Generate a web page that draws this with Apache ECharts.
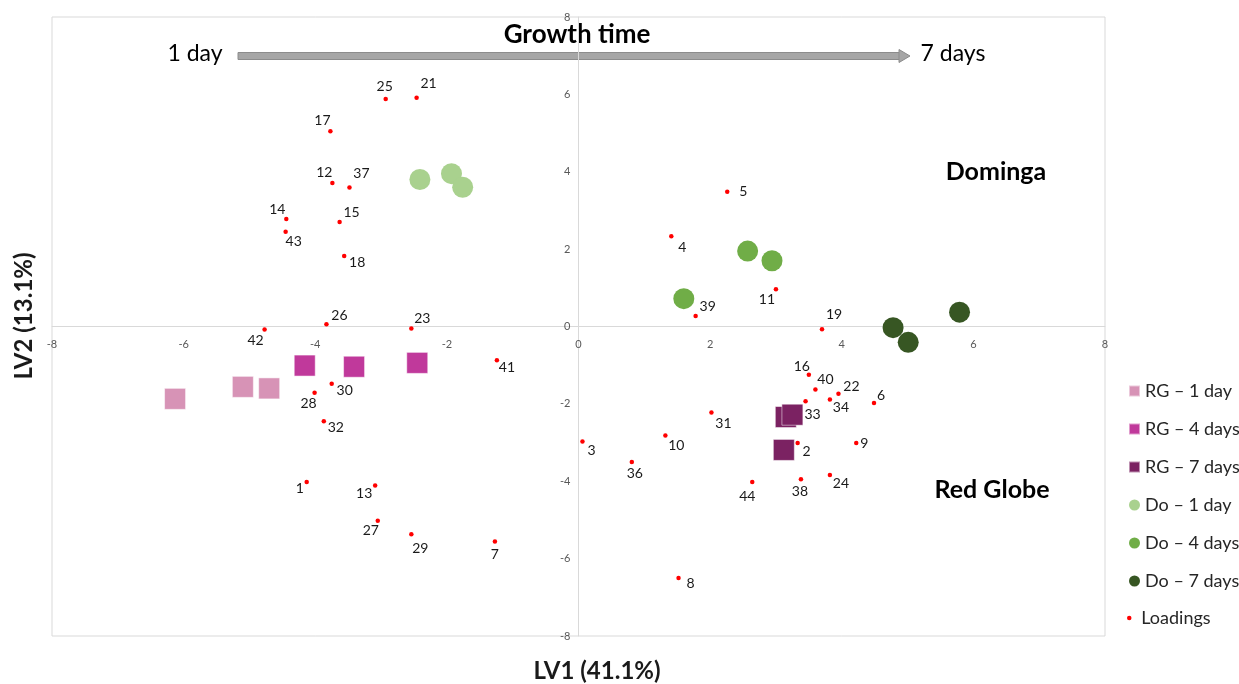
<!DOCTYPE html>
<html>
<head>
<meta charset="utf-8">
<script src="https://cdn.jsdelivr.net/npm/echarts@6/dist/echarts.min.js"></script>
<style>
html,body{margin:0;padding:0;background:#fff;}
#chart{width:1239px;height:684px;}
</style>
</head>
<body>
<div id="chart"></div>
<script>
// ---- data ----
const seriesNames = ['RG \u2013 1 day','RG \u2013 4 days','RG \u2013 7 days','Do \u2013 1 day','Do \u2013 4 days','Do \u2013 7 days'];
const rg1 = [[-6.13,-1.87],[-5.10,-1.56],[-4.70,-1.60]];
const rg4 = [[-4.16,-1.01],[-3.41,-1.04],[-2.45,-0.94]];
const rg7 = [[3.15,-2.34],[3.25,-2.28],[3.12,-3.19]];
const do1 = [[-2.41,3.80],[-1.93,3.95],[-1.76,3.60]];
const do4 = [[2.57,1.95],[2.94,1.70],[1.60,0.72]];
const do7 = [[5.79,0.37],[4.78,-0.03],[5.01,-0.41]];

const loadingIds = ['25','21','17','12','37','14','43','15','18','26','23','42','41','30','28','32','1','13','27','29','7','3','16','40','22','34','33','6','31','10','2','9','36','24','38','44','8','5','4','11','39','19'];
const loadingX = [-2.93,-2.46,-3.77,-3.74,-3.48,-4.44,-4.45,-3.63,-3.56,-3.83,-2.54,-4.77,-1.24,-3.75,-4.01,-3.87,-4.13,-3.09,-3.05,-2.54,-1.27,0.06,3.50,3.60,3.95,3.82,3.45,4.49,2.02,1.32,3.33,4.22,0.81,3.82,3.38,2.64,1.52,2.26,1.41,3.00,1.78,3.70];
const loadingY = [5.88,5.91,5.05,3.71,3.59,2.78,2.45,2.70,1.82,0.06,-0.05,-0.08,-0.87,-1.48,-1.71,-2.45,-4.02,-4.11,-5.02,-5.37,-5.56,-2.97,-1.25,-1.63,-1.74,-1.89,-1.93,-1.98,-2.22,-2.82,-3.01,-3.01,-3.50,-3.84,-3.95,-4.02,-6.50,3.48,2.33,0.96,0.27,-0.07];
const xTicks = [-8,-6,-4,-2,0,2,4,6,8];
const yTicks = [-8,-6,-4,-2,0,2,4,6,8];

// ---- styling (label offsets in px, relative to each loading dot) ----
const loadingLabelOffset = [[-1,-13],[12,-14],[-8,-11],[-8,-10],[12,-14],[-9,-9],[8,10],[12,-10],[13,6],[13,-9],[11,-10],[-9,11],[10,7],[13,7],[-6,11],[12,6],[-7,6],[-11,8],[-7,10],[9,14],[0,13],[9,9],[-7,-8],[10,-10],[13,-7],[11,8],[7,13],[7,-8],[12,11],[11,10],[9,9],[8,1],[3,12],[11,8],[-1,12],[-5,14],[12,6],[16,0],[11,11],[-9,10],[12,-10],[12,-15]];
const colors = ['#d793b6','#c0399b','#7b2262','#a9d18e','#70ad47','#375623'];
const FONT = 'Lato, "Liberation Sans", sans-serif';

const G = { left: 52, right: 134, top: 17, bottom: 48 };
const plotW = 1239 - G.left - G.right;
const plotH = 684 - G.top - G.bottom;

const groupData = [rg1, rg4, rg7, do1, do4, do7];
const series = groupData.map((d, i) => ({
  name: seriesNames[i],
  type: 'scatter',
  symbol: i < 3 ? 'rect' : 'circle',
  symbolSize: 21,
  data: d,
  itemStyle: { color: colors[i], opacity: 1, borderColor: i < 3 ? 'rgba(255,255,255,0.5)' : 'transparent', borderWidth: i < 3 ? 1 : 0 },
  z: 2
}));

series.push({
  name: 'Loadings',
  type: 'scatter',
  symbol: 'circle',
  symbolSize: 4.5,
  itemStyle: { color: '#ff0000', opacity: 1 },
  z: 3,
  data: loadingIds.map((id, i) => ({
    name: id,
    value: [loadingX[i], loadingY[i]],
    label: { offset: loadingLabelOffset[i] }
  })),
  label: {
    show: true,
    position: 'inside',
    formatter: p => p.name,
    color: '#1a1a1a',
    fontFamily: FONT,
    fontSize: 14,
    align: 'center',
    verticalAlign: 'middle'
  }
});

const chart = echarts.init(document.getElementById('chart'), null, { renderer: 'canvas' });
chart.setOption({
  animation: false,
  backgroundColor: '#fff',
  grid: { left: G.left, right: G.right, top: G.top, bottom: G.bottom, show: true, borderColor: '#d9d9d9', borderWidth: 1, backgroundColor: 'transparent' },
  xAxis: {
    type: 'value', min: xTicks[0], max: xTicks[xTicks.length-1], interval: 2,
    position: 'bottom', offset: -plotH / 2,
    axisLine: { show: true, onZero: false, lineStyle: { color: '#d9d9d9', width: 1 } },
    axisTick: { show: false },
    splitLine: { show: false },
    axisLabel: { color: '#595959', fontSize: 11, fontFamily: FONT, margin: 12, showMinLabel: true, showMaxLabel: true }
  },
  yAxis: {
    type: 'value', min: yTicks[0], max: yTicks[yTicks.length-1], interval: 2,
    position: 'left', offset: -plotW / 2,
    axisLine: { show: true, onZero: false, lineStyle: { color: '#d9d9d9', width: 1 } },
    axisTick: { show: false },
    splitLine: { show: false },
    axisLabel: { color: '#595959', fontSize: 11, fontFamily: FONT, margin: 8, showMinLabel: true, showMaxLabel: true }
  },
  legend: [
    {
      orient: 'vertical', left: 1123, top: 377, itemWidth: 11, itemHeight: 11, itemGap: 20,
      data: seriesNames,
      textStyle: { color: '#262626', fontSize: 18, fontFamily: FONT, lineHeight: 18 },
      selectedMode: false
    },
    {
      orient: 'vertical', left: 1122, top: 604, itemWidth: 14, itemHeight: 4.5, itemGap: 20,
      data: [{ name: 'Loadings', icon: 'circle' }],
      textStyle: { color: '#262626', fontSize: 18, fontFamily: FONT, lineHeight: 18 },
      selectedMode: false
    }
  ],
  graphic: [
    { type: 'rect', shape: { x: 238, y: 52.5, width: 662, height: 7 }, style: { fill: '#a6a6a6', stroke: '#8c8c8c', lineWidth: 1 } },
    { type: 'polygon', shape: { points: [[899,49.5],[910,56],[899,62.5]] }, style: { fill: '#a6a6a6', stroke: '#8c8c8c', lineWidth: 1 } },
    { type: 'text', style: { text: 'Growth time', x: 577, y: 35, align: 'center', verticalAlign: 'middle', font: 'bold 26px ' + FONT, fill: '#000' } },
    { type: 'text', style: { text: '1 day', x: 195, y: 54, align: 'center', verticalAlign: 'middle', font: '23px ' + FONT, fill: '#000' } },
    { type: 'text', style: { text: '7 days', x: 953, y: 54, align: 'center', verticalAlign: 'middle', font: '23px ' + FONT, fill: '#000' } },
    { type: 'text', style: { text: 'Dominga', x: 996, y: 172, align: 'center', verticalAlign: 'middle', font: 'bold 25px ' + FONT, fill: '#000' } },
    { type: 'text', style: { text: 'Red Globe', x: 992, y: 490, align: 'center', verticalAlign: 'middle', font: 'bold 25px ' + FONT, fill: '#000' } },
    { type: 'text', style: { text: 'LV1 (41.1%)', x: 597, y: 671, align: 'center', verticalAlign: 'middle', font: 'bold 24px ' + FONT, fill: '#1a1a1a' } },
    { type: 'text', rotation: Math.PI / 2, x: 24, y: 316, style: { text: 'LV2 (13.1%)', x: 0, y: 0, align: 'center', verticalAlign: 'middle', font: 'bold 24px ' + FONT, fill: '#1a1a1a' } }
  ],
  series: series
});
</script>
</body>
</html>
